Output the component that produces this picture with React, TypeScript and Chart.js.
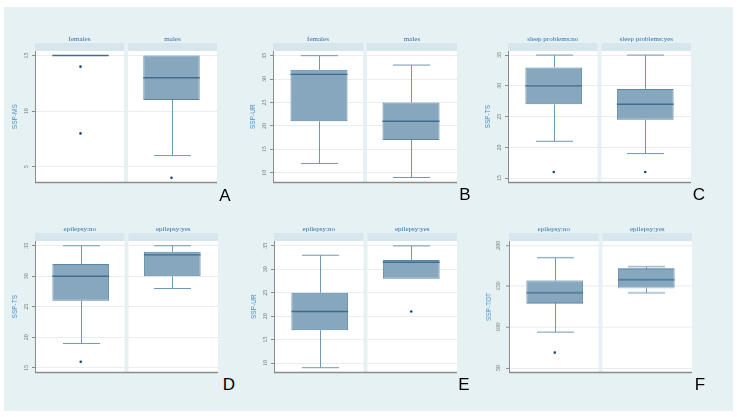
import React, { useEffect, useRef } from 'react';
import { Chart, registerables } from 'chart.js';

Chart.register(...registerables);

// ---------- categories ----------
const sexCategories = ['females', 'males'];
const sleepCategories = ['sleep problems:no', 'sleep problems:yes'];
const epilepsyCategories = ['epilepsy:no', 'epilepsy:yes'];

// ---------- Panel A: SSP-MS by sex ----------
const msLow = [15, 6];
const msQ1 = [15, 11];
const msMedian = [15, 13];
const msQ3 = [15, 15];
const msHigh = [15, 15];
const msOutliers = [[14, 8], [4]];
const msTicks = [5, 10, 15];

// ---------- Panel B: SSP-UR by sex ----------
const urSexLow = [12, 9];
const urSexQ1 = [21, 17];
const urSexMedian = [31, 21];
const urSexQ3 = [32, 25];
const urSexHigh = [35, 33];
const urSexOutliers: number[][] = [[], []];
const urTicks = [10, 15, 20, 25, 30, 35];

// ---------- Panel C: SSP-TS by sleep problems ----------
const tsSleepLow = [21, 19];
const tsSleepQ1 = [27, 24.5];
const tsSleepMedian = [30, 27];
const tsSleepQ3 = [33, 29.5];
const tsSleepHigh = [35, 35];
const tsSleepOutliers = [[16], [16]];
const tsTicks = [15, 20, 25, 30, 35];

// ---------- Panel D: SSP-TS by epilepsy ----------
const tsEpiLow = [19, 28];
const tsEpiQ1 = [26, 30];
const tsEpiMedian = [30, 33.5];
const tsEpiQ3 = [32, 34];
const tsEpiHigh = [35, 35];
const tsEpiOutliers: number[][] = [[16], []];

// ---------- Panel E: SSP-UR by epilepsy ----------
const urEpiLow = [9, 28];
const urEpiQ1 = [17, 28];
const urEpiMedian = [21, 31.5];
const urEpiQ3 = [25, 32];
const urEpiHigh = [33, 35];
const urEpiOutliers: number[][] = [[], [21]];

// ---------- Panel F: SSP-TOT by epilepsy ----------
const totEpiLow = [94, 142];
const totEpiQ1 = [129, 148];
const totEpiMedian = [142, 158];
const totEpiQ3 = [157, 172];
const totEpiHigh = [185, 174];
const totEpiOutliers: number[][] = [[69], []];
const totTicks = [50, 100, 150, 200];

// ---------- styles / layout ----------
const PANEL_BG = '#e6f1f3';
const STRIP_BG = '#d6e6ec';
const BOX_FILL = '#86a7bd';
const BOX_BORDER = '#5a87a6';
const WHISKER = '#6f98b4';
const MEDIAN = '#3f6d8e';
const OUTLIER = '#1f4a70';
const HEADER_TEXT = '#2f6fa8';
const AXIS_TITLE = '#4a8fc7';

type PanelDef = {
  letter: string;
  title: string;
  cats: string[];
  low: number[];
  q1: number[];
  med: number[];
  q3: number[];
  high: number[];
  out: number[][];
  ticks: number[];
  yMin: number;
  yMax: number;
  area: { l: number; t: number; r: number; b: number };
  letterPos: { x: number; y: number };
};

const panels: PanelDef[] = [
  { letter: 'A', title: 'SSP-MS', cats: sexCategories, low: msLow, q1: msQ1, med: msMedian, q3: msQ3, high: msHigh, out: msOutliers, ticks: msTicks, yMin: 3.59, yMax: 15.41, area: { l: 35, t: 51, r: 218, b: 185 }, letterPos: { x: 225, y: 195 } },
  { letter: 'B', title: 'SSP-UR', cats: sexCategories, low: urSexLow, q1: urSexQ1, med: urSexMedian, q3: urSexQ3, high: urSexHigh, out: urSexOutliers, ticks: urTicks, yMin: 7.95, yMax: 36.0, area: { l: 273, t: 51, r: 457, b: 185 }, letterPos: { x: 465, y: 194 } },
  { letter: 'C', title: 'SSP-TS', cats: sleepCategories, low: tsSleepLow, q1: tsSleepQ1, med: tsSleepMedian, q3: tsSleepQ3, high: tsSleepHigh, out: tsSleepOutliers, ticks: tsTicks, yMin: 14.32, yMax: 35.66, area: { l: 508, t: 51, r: 692, b: 185 }, letterPos: { x: 699, y: 194 } },
  { letter: 'D', title: 'SSP-TS', cats: epilepsyCategories, low: tsEpiLow, q1: tsEpiQ1, med: tsEpiMedian, q3: tsEpiQ3, high: tsEpiHigh, out: tsEpiOutliers, ticks: tsTicks, yMin: 14.26, yMax: 35.78, area: { l: 35, t: 241, r: 219, b: 375 }, letterPos: { x: 229, y: 384 } },
  { letter: 'E', title: 'SSP-UR', cats: epilepsyCategories, low: urEpiLow, q1: urEpiQ1, med: urEpiMedian, q3: urEpiQ3, high: urEpiHigh, out: urEpiOutliers, ticks: urTicks, yMin: 8.0, yMax: 36.04, area: { l: 274, t: 241, r: 458, b: 375 }, letterPos: { x: 464, y: 384 } },
  { letter: 'F', title: 'SSP-TOT', cats: epilepsyCategories, low: totEpiLow, q1: totEpiQ1, med: totEpiMedian, q3: totEpiQ3, high: totEpiHigh, out: totEpiOutliers, ticks: totTicks, yMin: 44.7, yMax: 205.2, area: { l: 509, t: 241, r: 693, b: 374.5 }, letterPos: { x: 700, y: 384 } },
];

const AXIS_W = 31;
const PAD_TOP = 24;
const PAD_RIGHT = 3;
const PAD_BOTTOM = 4;

function makeBoxPlugin(p: PanelDef) {
  return {
    id: 'boxFacets' + p.letter,
    beforeDraw(chart: any) {
      const { ctx, chartArea, scales } = chart;
      const { top, bottom } = chartArea;
      const x = scales.x;
      const half = (chartArea.right - chartArea.left) / 2;
      ctx.save();
      p.cats.forEach((cat, i) => {
        const c = x.getPixelForValue(i);
        let x0 = c - half / 2;
        let x1 = c + half / 2;
        if (i === 0) x1 -= 2; else x0 += 2;
        ctx.fillStyle = '#ffffff';
        ctx.fillRect(x0, top, x1 - x0, bottom - top);
        ctx.fillStyle = STRIP_BG;
        ctx.fillRect(x0, top - 8, x1 - x0, 8);
        ctx.fillStyle = HEADER_TEXT;
        ctx.font = '7px "Liberation Serif"';
        ctx.textAlign = 'center';
        ctx.textBaseline = 'middle';
        ctx.fillText(cat, (x0 + x1) / 2, top - 12);
      });
      ctx.restore();
    },
    beforeDatasetsDraw(chart: any) {
      const { ctx, scales } = chart;
      const x = scales.x;
      const y = scales.y;
      const half = (chart.chartArea.right - chart.chartArea.left) / 2;
      const capW = half * 0.405;
      ctx.save();
      ctx.strokeStyle = WHISKER;
      ctx.lineWidth = 1;
      p.cats.forEach((_, i) => {
        const c = Math.round(x.getPixelForValue(i)) + 0.5;
        const seg = (a: number, b: number) => {
          if (a === b) return;
          ctx.beginPath();
          ctx.moveTo(c, y.getPixelForValue(a));
          ctx.lineTo(c, y.getPixelForValue(b));
          ctx.stroke();
          const yc = y.getPixelForValue(b);
          ctx.beginPath();
          ctx.moveTo(c - capW / 2, yc);
          ctx.lineTo(c + capW / 2, yc);
          ctx.stroke();
        };
        seg(p.q3[i], p.high[i]);
        seg(p.q1[i], p.low[i]);
      });
      ctx.restore();
    },
    afterDatasetsDraw(chart: any) {
      const { ctx, scales, chartArea } = chart;
      const y = scales.y;
      const meta = chart.getDatasetMeta(0);
      ctx.save();
      ctx.strokeStyle = MEDIAN;
      ctx.lineWidth = 1.4;
      p.med.forEach((m, i) => {
        const bar = meta.data[i];
        const w = bar.width;
        const ym = y.getPixelForValue(m);
        ctx.beginPath();
        ctx.moveTo(bar.x - w / 2, ym);
        ctx.lineTo(bar.x + w / 2, ym);
        ctx.stroke();
      });
      ctx.strokeStyle = '#8c8c8c';
      ctx.lineWidth = 1.5;
      ctx.beginPath();
      ctx.moveTo(chartArea.left, chartArea.bottom);
      ctx.lineTo(chartArea.right, chartArea.bottom);
      ctx.stroke();
      ctx.restore();
    },
  };
}

function Panel({ p }: { p: PanelDef }) {
  const ref = useRef<HTMLCanvasElement | null>(null);
  const width = p.area.r - p.area.l + AXIS_W + PAD_RIGHT;
  const height = p.area.b - p.area.t + PAD_TOP + PAD_BOTTOM;

  useEffect(() => {
    if (!ref.current) return;
    const outlierPoints: { x: string; y: number }[] = [];
    p.out.forEach((arr, i) => arr.forEach((v) => outlierPoints.push({ x: p.cats[i], y: v })));
    const chart = new Chart(ref.current, {
      type: 'bar',
      data: {
        labels: p.cats,
        datasets: [
          {
            type: 'bar',
            data: p.q1.map((v, i) => [v, p.q3[i]]) as any,
            backgroundColor: BOX_FILL,
            borderColor: BOX_BORDER,
            borderWidth: 1,
            borderSkipped: false,
            barPercentage: 0.62,
            categoryPercentage: 1,
          } as any,
          {
            type: 'line',
            data: outlierPoints as any,
            showLine: false,
            pointRadius: 1.3,
            pointBackgroundColor: OUTLIER,
            pointBorderWidth: 0,
          } as any,
        ],
      },
      options: {
        animation: false,
        responsive: false,
        maintainAspectRatio: false,
        layout: { padding: { left: 0, top: PAD_TOP, right: PAD_RIGHT, bottom: PAD_BOTTOM } },
        plugins: {
          legend: { display: false },
          tooltip: { enabled: false },
          title: { display: false },
        },
        scales: {
          x: { type: 'category', display: false, offset: true },
          y: {
            type: 'linear',
            min: p.yMin,
            max: p.yMax,
            afterBuildTicks: (s: any) => {
              s.ticks = p.ticks.map((v) => ({ value: v }));
            },
            afterFit: (s: any) => {
              s.width = AXIS_W;
            },
            ticks: {
              minRotation: 90,
              maxRotation: 90,
              crossAlign: 'center',
              padding: 3,
              color: '#6e6e6e',
              font: { size: 6, family: '"Liberation Serif"' },
            },
            grid: {
              color: '#e7edf0',
              tickColor: '#8c8c8c',
              tickLength: 3,
              lineWidth: 1,
            },
            border: { display: true, color: '#8c8c8c', width: 1 },
            title: {
              display: true,
              text: p.title,
              color: AXIS_TITLE,
              font: { size: 6.5, family: '"Liberation Sans"' },
              padding: { top: 7, bottom: 0 },
            },
          } as any,
        },
      } as any,
      plugins: [makeBoxPlugin(p)],
    });
    return () => chart.destroy();
  }, [p]);

  return (
    <canvas
      ref={ref}
      width={width}
      height={height}
      style={{
        position: 'absolute',
        left: p.area.l - AXIS_W,
        top: p.area.t - PAD_TOP,
        width,
        height,
      }}
    />
  );
}

export default function App() {
  return (
    <div style={{ position: 'absolute', left: 0, top: 0, width: 737, height: 417, background: '#ffffff', overflow: 'hidden' }}>
      <div style={{ position: 'absolute', left: 4, top: 7, width: 729, height: 404, background: PANEL_BG }} />
      {panels.map((p) => (
        <Panel key={p.letter} p={p} />
      ))}
      {panels.map((p) => (
        <div
          key={'L' + p.letter}
          style={{
            position: 'absolute',
            left: p.letterPos.x,
            top: p.letterPos.y,
            transform: 'translate(-50%, -50%)',
            font: '17px "Liberation Sans", Arial, sans-serif',
            color: '#000',
            lineHeight: '17px',
          }}
        >
          {p.letter}
        </div>
      ))}
    </div>
  );
}
